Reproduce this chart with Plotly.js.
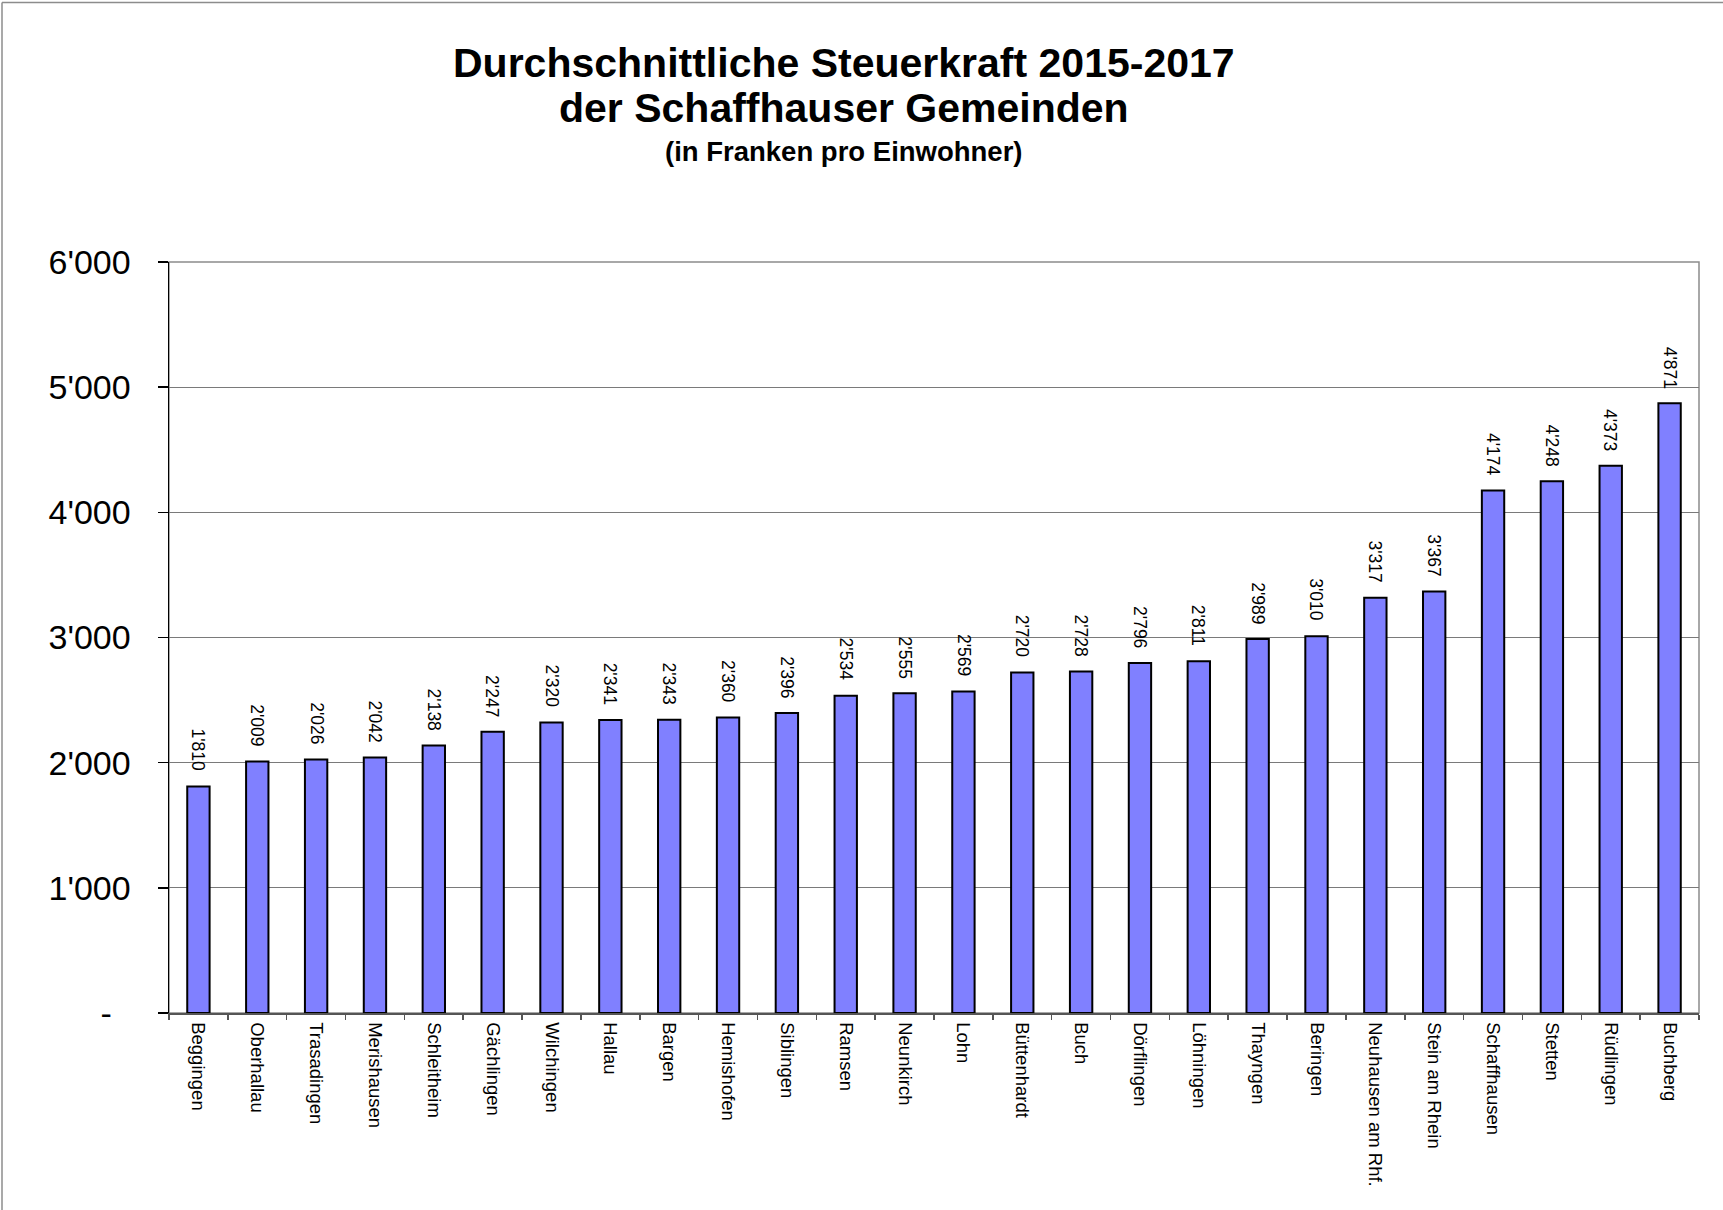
<!DOCTYPE html>
<html>
<head>
<meta charset="utf-8">
<script src="https://cdn.plot.ly/plotly-3.0.1.min.js"></script>
<style>html,body{margin:0;padding:0;background:#fff;}#chart{width:1723px;height:1210px;}</style>
</head>
<body>
<div id="chart"></div>
<script>
// ---- data ----
const gemeinden = ["Beggingen","Oberhallau","Trasadingen","Merishausen","Schleitheim","Gächlingen","Wilchingen","Hallau","Bargen","Hemishofen","Siblingen","Ramsen","Neunkirch","Lohn","Büttenhardt","Buch","Dörflingen","Löhningen","Thayngen","Beringen","Neuhausen am Rhf.","Stein am Rhein","Schaffhausen","Stetten","Rüdlingen","Buchberg"];
const steuerkraft = [1810,2009,2026,2042,2138,2247,2320,2341,2343,2360,2396,2534,2555,2569,2720,2728,2796,2811,2989,3010,3317,3367,4174,4248,4373,4871];
const yTickVals = [0,1000,2000,3000,4000,5000,6000];
const yTickText = ["-\u00a0\u00a0","1'000","2'000","3'000","4'000","5'000","6'000"];
const titleLines = ["Durchschnittliche Steuerkraft 2015-2017","der Schaffhauser Gemeinden","(in Franken pro Einwohner)"];

// ---- layout helpers (pixel -> paper) ----
const W = 1723, H = 1210;
const L = 169, R = 1699, T = 262, B = 1013;
const px = p => (p - L) / (R - L);
const py = p => (B - p) / (B - T);
const fmt = v => String(v).replace(/\B(?=(\d{3})+(?!\d))/g, "'");
const FONT = "Liberation Sans, Arial, Helvetica, sans-serif";

const trace = {
  type: "bar",
  x: gemeinden,
  y: steuerkraft,
  marker: {color: "#8080FF", line: {color: "#000000", width: 2}},
  hoverinfo: "x+y"
};

const valueAnnotations = gemeinden.map((g, i) => ({
  x: g, y: steuerkraft[i], xref: "x", yref: "y",
  text: fmt(steuerkraft[i]), textangle: 90,
  showarrow: false, xanchor: "center", yanchor: "bottom", yshift: 13,
  font: {family: FONT, size: 17.5, color: "#000"}
}));

const titleAnnotations = [
  {text: "<b>" + titleLines[0] + "</b>", y: py(63), size: 41},
  {text: "<b>" + titleLines[1] + "</b>", y: py(108), size: 41},
  {text: "<b>" + titleLines[2] + "</b>", y: py(151), size: 27.5}
].map(t => ({
  text: t.text, xref: "paper", yref: "paper", x: px(844), y: t.y,
  xanchor: "center", yanchor: "middle", showarrow: false,
  font: {family: FONT, size: t.size, color: "#000"}
}));

const layout = {
  width: W, height: H,
  margin: {l: L, r: W - R, t: T, b: H - B, pad: 0},
  paper_bgcolor: "#ffffff", plot_bgcolor: "#ffffff",
  font: {family: FONT, color: "#000"},
  showlegend: false,
  bargap: 0.62,
  xaxis: {
    type: "category", tickangle: 90,
    tickfont: {family: FONT, size: 18.5, color: "#000"},
    ticks: "outside", tickson: "boundaries", ticklen: 5, tickwidth: 1.5, tickcolor: "#555",
    ticklabelstandoff: 4,
    showline: true, linecolor: "#555", linewidth: 1.5,
    showgrid: false, zeroline: false, fixedrange: true
  },
  yaxis: {
    range: [0, 6000], tickvals: yTickVals, ticktext: yTickText,
    tickfont: {family: FONT, size: 34, color: "#000"},
    ticks: "outside", ticklen: 10, tickwidth: 1.5, tickcolor: "#000",
    ticklabelstandoff: 20,
    showline: true, linecolor: "#000", linewidth: 1.5,
    showgrid: true, gridcolor: "#7a7a7a", gridwidth: 1,
    zeroline: false, fixedrange: true
  },
  shapes: [
    {type: "rect", xref: "paper", yref: "paper", x0: 0, x1: 1, y0: 0, y1: 1,
     line: {color: "#8c8c8c", width: 1.5}, layer: "below"},
    {type: "line", xref: "paper", yref: "paper", x0: px(2), x1: px(2), y0: py(2.5), y1: py(H),
     line: {color: "#8c8c8c", width: 1.5}},
    {type: "line", xref: "paper", yref: "paper", x0: px(2), x1: px(W), y0: py(2.5), y1: py(2.5),
     line: {color: "#8c8c8c", width: 1.5}}
  ],
  annotations: titleAnnotations.concat(valueAnnotations)
};

Plotly.newPlot("chart", [trace], layout, {displayModeBar: false, staticPlot: true});
</script>
</body>
</html>
